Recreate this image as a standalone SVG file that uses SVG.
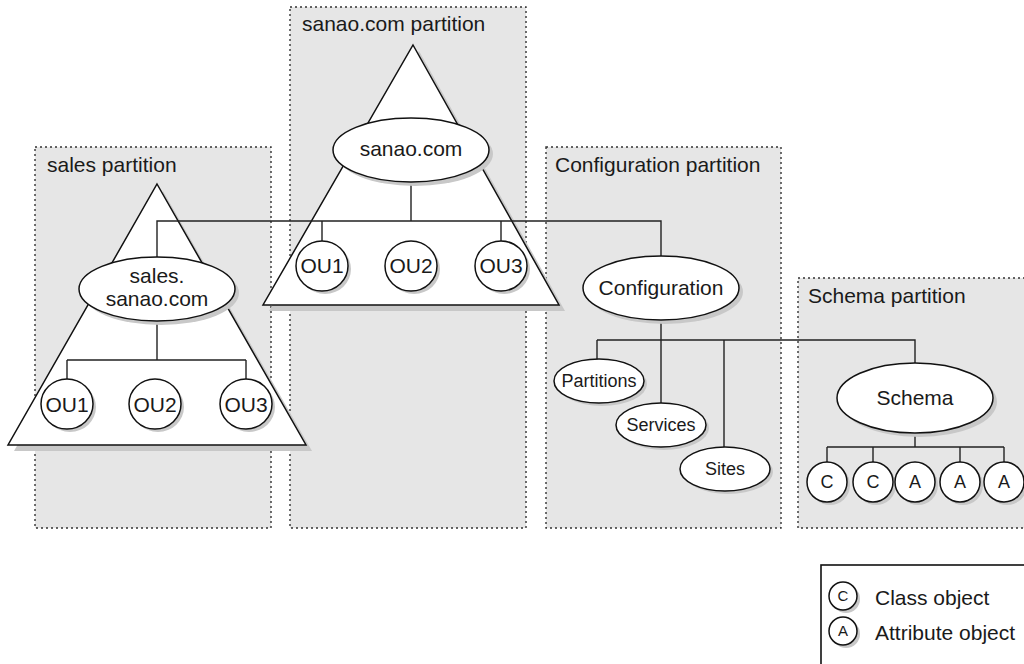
<svg xmlns="http://www.w3.org/2000/svg" width="1024" height="664" viewBox="0 0 1024 664">
<style>
.part{fill:#e6e6e6;stroke:#333;stroke-width:1.4;stroke-dasharray:2 3}
.sh{fill:#c8c8c8;stroke:none}
.shape{fill:#fff;stroke:#111;stroke-width:1.5}
.conn{fill:none;stroke:#222;stroke-width:1.4}
text{font-family:"Liberation Sans",Arial,sans-serif;fill:#1a1a1a}
.lbl{font-size:21px}
.node{font-size:21px;text-anchor:middle}
.small{font-size:18px;text-anchor:middle}
.leg{font-size:15px;text-anchor:middle}
</style>
<rect width="1024" height="664" fill="#fff"/>
<g id="sales-partition">
<rect class="part" x="35" y="147" width="236" height="381"/>
<text class="lbl" x="47" y="172">sales partition</text>
</g>
<g id="sanao-partition">
<rect class="part" x="290" y="7" width="236" height="521"/>
<text class="lbl" x="302" y="31">sanao.com partition</text>
</g>
<g id="config-partition">
<rect class="part" x="546" y="147" width="235" height="381"/>
<text class="lbl" x="555" y="172">Configuration partition</text>
</g>
<g id="schema-partition">
<rect class="part" x="798" y="278" width="240" height="250"/>
<text class="lbl" x="808" y="303">Schema partition</text>
</g>
<g id="sales-tree">
<polygon class="sh" points="163,191 312,451 14,451"/>
<polygon class="shape" points="157,184 306,445 8,445"/>
</g>
<g id="sanao-tree">
<polygon class="sh" points="419,51 565,311 269,311"/>
<polygon class="shape" points="413,45 559,305 263,305"/>
</g>
<g id="connectors">
<path class="conn" d="M157,257 V221 H661 V256"/>
<path class="conn" d="M411,182 V221 M322,221 V241 M501,221 V241"/>
<path class="conn" d="M157,321 V360 M67,360 H246 M67,360 V380 M246,360 V380"/>
<path class="conn" d="M661,321 V340 M597,340 H915 V363 M597,340 V359 M661,340 V403 M724,340 V447"/>
<path class="conn" d="M915,433 V447 M827,447 H1004 M827,447 V462 M873,447 V462 M960,447 V462 M1004,447 V462"/>
</g>
<g id="sanao-com">
<ellipse class="sh" cx="415" cy="154" rx="78" ry="32"/>
<ellipse class="shape" cx="411" cy="150" rx="78" ry="32"/>
<text class="node" x="411" y="156">sanao.com</text>
</g>
<g id="sanao-ou1"><ellipse class="sh" cx="325" cy="269" rx="26" ry="25"/><ellipse class="shape" cx="322" cy="266" rx="26" ry="25"/><text class="node" x="322" y="273">OU1</text></g>
<g id="sanao-ou2"><ellipse class="sh" cx="414" cy="269" rx="26" ry="25"/><ellipse class="shape" cx="411" cy="266" rx="26" ry="25"/><text class="node" x="411" y="273">OU2</text></g>
<g id="sanao-ou3"><ellipse class="sh" cx="504" cy="269" rx="26" ry="25"/><ellipse class="shape" cx="501" cy="266" rx="26" ry="25"/><text class="node" x="501" y="273">OU3</text></g>
<g id="sales-sanao-com">
<ellipse class="sh" cx="161" cy="293" rx="78" ry="32"/>
<ellipse class="shape" cx="157" cy="289" rx="78" ry="32"/>
<text class="node" x="157" y="283">sales.</text>
<text class="node" x="157" y="306">sanao.com</text>
</g>
<g id="sales-ou1"><ellipse class="sh" cx="70" cy="407" rx="26" ry="25"/><ellipse class="shape" cx="67" cy="404" rx="26" ry="25"/><text class="node" x="67" y="412">OU1</text></g>
<g id="sales-ou2"><ellipse class="sh" cx="158" cy="407" rx="26" ry="25"/><ellipse class="shape" cx="155" cy="404" rx="26" ry="25"/><text class="node" x="155" y="412">OU2</text></g>
<g id="sales-ou3"><ellipse class="sh" cx="249" cy="407" rx="26" ry="25"/><ellipse class="shape" cx="246" cy="404" rx="26" ry="25"/><text class="node" x="246" y="412">OU3</text></g>
<g id="configuration">
<ellipse class="sh" cx="665" cy="292" rx="78" ry="32"/>
<ellipse class="shape" cx="661" cy="288" rx="78" ry="32"/>
<text class="node" x="661" y="295">Configuration</text>
</g>
<g id="partitions"><ellipse class="sh" cx="602" cy="384" rx="45" ry="22"/><ellipse class="shape" cx="599" cy="381" rx="45" ry="22"/><text class="small" x="599" y="387">Partitions</text></g>
<g id="services"><ellipse class="sh" cx="664" cy="428" rx="45" ry="22"/><ellipse class="shape" cx="661" cy="425" rx="45" ry="22"/><text class="small" x="661" y="431">Services</text></g>
<g id="sites"><ellipse class="sh" cx="728" cy="472" rx="45" ry="22"/><ellipse class="shape" cx="725" cy="469" rx="45" ry="22"/><text class="small" x="725" y="475">Sites</text></g>
<g id="schema">
<ellipse class="sh" cx="919" cy="402" rx="78" ry="35"/>
<ellipse class="shape" cx="915" cy="398" rx="78" ry="35"/>
<text class="node" x="915" y="405">Schema</text>
</g>
<g id="class1"><circle class="sh" cx="830" cy="485" r="20"/><circle class="shape" cx="827" cy="482" r="20"/><text class="small" x="827" y="488">C</text></g>
<g id="class2"><circle class="sh" cx="876" cy="485" r="20"/><circle class="shape" cx="873" cy="482" r="20"/><text class="small" x="873" y="488">C</text></g>
<g id="attr1"><circle class="sh" cx="918" cy="485" r="20"/><circle class="shape" cx="915" cy="482" r="20"/><text class="small" x="915" y="488">A</text></g>
<g id="attr2"><circle class="sh" cx="963" cy="485" r="20"/><circle class="shape" cx="960" cy="482" r="20"/><text class="small" x="960" y="488">A</text></g>
<g id="attr3"><circle class="sh" cx="1007" cy="485" r="20"/><circle class="shape" cx="1004" cy="482" r="20"/><text class="small" x="1004" y="488">A</text></g>
<g id="legend">
<rect x="821" y="565" width="260" height="160" fill="#fff" stroke="#111" stroke-width="1.6"/>
<circle class="sh" cx="846" cy="599" r="14"/><circle class="shape" cx="843" cy="596" r="14"/><text class="leg" x="843" y="601">C</text>
<circle class="sh" cx="846" cy="634" r="14"/><circle class="shape" cx="843" cy="631" r="14"/><text class="leg" x="843" y="636">A</text>
<text class="lbl" x="875" y="605">Class object</text>
<text class="lbl" x="875" y="640">Attribute object</text>
</g>
</svg>
